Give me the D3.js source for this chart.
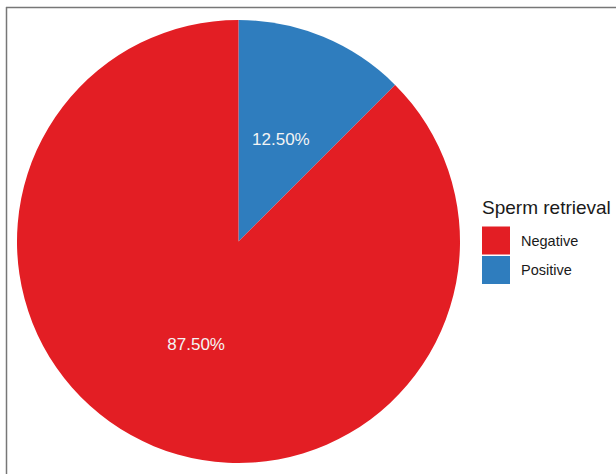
<!DOCTYPE html>
<html>
<head>
<meta charset="utf-8">
<script src="https://cdn.jsdelivr.net/npm/d3@7"></script>
<style>
  body { margin: 0; background: #fff; }
  svg { display: block; font-family: "Liberation Sans", Arial, sans-serif; }
</style>
</head>
<body>
<svg id="chart" width="616" height="474"></svg>
<script>
// Data
const categories = ["Positive", "Negative"];
const values = [12.5, 87.5];
const labels = ["12.50%", "87.50%"];
const legendOrder = ["Negative", "Positive"];
const legendTitle = "Sperm retrieval";

const colors = {
    Negative: "#E31E24",
    Positive: "#2F7DBE",
};

const width = 616, height = 474;
const cx = 238.5, cy = 241.5, radius = 221.5;

const svg = d3.select("#chart");

// frame lines (top and left only)
svg.append("line")
    .attr("x1", 6).attr("x2", width).attr("y1", 7.5).attr("y2", 7.5)
    .attr("stroke", "#777").attr("stroke-width", 1.5);
svg.append("line")
    .attr("x1", 6.5).attr("x2", 6.5).attr("y1", 7).attr("y2", height)
    .attr("stroke", "#777").attr("stroke-width", 1.5);

const data = categories.map((c, i) => ({ cat: c, value: values[i], label: labels[i] }));

const pie = d3.pie()
    .sort(null)
    .value((d) => d.value);

const arc = d3.arc().innerRadius(0).outerRadius(radius);
const labelArc = d3.arc().innerRadius(radius * 0.5).outerRadius(radius * 0.5);

const g = svg.append("g").attr("transform", `translate(${cx},${cy})`);

const slices = g.selectAll("g.slice")
    .data(pie(data))
    .enter()
    .append("g")
    .classed("slice", true);

slices.append("path")
    .attr("d", arc)
    .attr("fill", (d) => colors[d.data.cat]);

slices.append("text")
    .attr("transform", (d) => {
        const [x, y] = labelArc.centroid(d);
        return `translate(${x},${y})`;
    })
    .attr("text-anchor", "middle")
    .attr("dy", "0.35em")
    .attr("fill", "#f4f4f4")
    .attr("font-size", 17)
    .text((d) => d.data.label);

// Legend
const legend = svg.append("g").attr("transform", "translate(482,0)");
legend.append("text")
    .attr("x", 0)
    .attr("y", 214)
    .attr("font-size", 19)
    .attr("fill", "#1a1a1a")
    .text(legendTitle);

const keys = legend.selectAll("g.key")
    .data(legendOrder)
    .enter()
    .append("g")
    .classed("key", true)
    .attr("transform", (d, i) => `translate(0,${226.5 + i * 29.5})`);

keys.append("rect")
    .attr("width", 28)
    .attr("height", 28)
    .attr("fill", (d) => colors[d]);

keys.append("text")
    .attr("x", 39)
    .attr("y", 14)
    .attr("dy", "0.35em")
    .attr("font-size", 14.5)
    .attr("fill", "#1a1a1a")
    .text((d) => d);
</script>
</body>
</html>
